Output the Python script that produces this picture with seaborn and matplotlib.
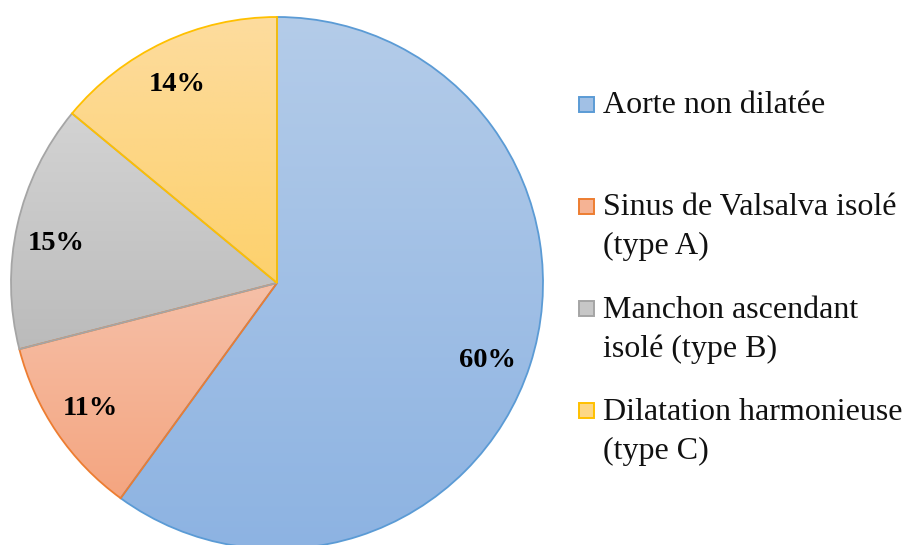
import numpy as np
import matplotlib
matplotlib.use("Agg")
import matplotlib.pyplot as plt
import seaborn as sns
from matplotlib.patches import Rectangle
from matplotlib.colors import to_rgb

categories = ["Aorte non dilatée",
              "Sinus de Valsalva isolé\n(type A)",
              "Manchon ascendant\nisolé (type B)",
              "Dilatation harmonieuse\n(type C)"]
values = [60, 11, 15, 14]
edge_colors = ["#5B9BD5", "#ED7D31", "#A5A5A5", "#FFC000"]
top_colors = ["#B4CCE9", "#F6C0A8", "#D3D3D3", "#FDDC9E"]
bottom_colors = ["#8DB3E2", "#F4A580", "#BBBBBB", "#FDD16C"]

sns.set_theme(style="white")
plt.rcParams['font.family'] = ['Liberation Serif', 'DejaVu Serif']

W, H = 907, 545
fig = plt.figure(figsize=(W / 100, H / 100), dpi=100)
ax = fig.add_axes([0, 0, 1, 1])

cx, cy, R = 277, H - 283, 266
wedges, texts, autotexts = ax.pie(
    values, startangle=90, counterclock=False, center=(cx, cy), radius=R,
    autopct=lambda p: f"{p:.0f}%", pctdistance=0.83,
    wedgeprops=dict(linewidth=1.3),
    textprops=dict(fontsize=20.5, fontweight="bold", color="black"))

for w, ec, tc, bc in zip(wedges, edge_colors, top_colors, bottom_colors):
    w.set_facecolor("none")
    w.set_edgecolor(ec)
    w.set_zorder(2)
    t = np.radians(np.linspace(w.theta1, w.theta2, 200))
    xs = np.concatenate([[cx], cx + R * np.cos(t)])
    ys = np.concatenate([[cy], cy + R * np.sin(t)])
    n = 256
    f = np.linspace(0, 1, n)[:, None]
    grad = (np.array(to_rgb(tc))[None, :] * (1 - f) + np.array(to_rgb(bc))[None, :] * f)
    im = ax.imshow(grad[:, None, :], extent=[xs.min(), xs.max(), ys.min(), ys.max()],
                   origin="upper", aspect="auto", zorder=1, interpolation="bilinear")
    im.set_clip_path(w)

# small layout nudges of the percentage labels (pixels)
label_nudges = [(0, -9), (-4, -1), (-5, -9), (-6, -1)]
for t, (dx, dy) in zip(autotexts, label_nudges):
    x, y = t.get_position()
    t.set_position((x + dx, y + dy))
    t.set_zorder(4)

ax.set_xlim(0, W)
ax.set_ylim(0, H)
ax.set_aspect("equal")
ax.axis("off")

# legend (drawn manually to match the layout)
for i, (lab, ec, tc, bc) in enumerate(zip(categories, edge_colors, top_colors, bottom_colors)):
    ymid = 104 + 102.3 * i
    mid = tuple((np.array(to_rgb(tc)) + np.array(to_rgb(bc))) / 2)
    ax.add_patch(Rectangle((579, H - ymid - 7.5), 15, 15, facecolor=mid,
                           edgecolor=ec, linewidth=1.4, zorder=5))
    for j, line in enumerate(lab.split("\n")):
        ax.text(603, H - (ymid + 9 + 39 * j), line, fontsize=23,
                ha="left", va="baseline", color="#111111")

fig.savefig("out.png", dpi=100)
